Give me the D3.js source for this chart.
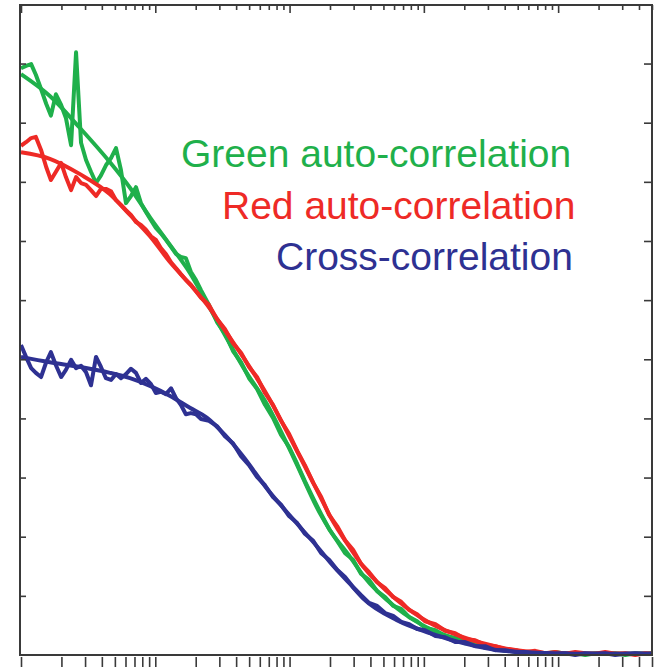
<!DOCTYPE html>
<html>
<head>
<meta charset="utf-8">
<script src="https://cdn.jsdelivr.net/npm/d3@7"></script>
<style>
  html, body { margin: 0; padding: 0; background: #fff; }
  svg { display: block; }
</style>
</head>
<body>
<div class="chart"></div>
<script>
// lag times (ms) of the measured correlation points
var lags = [0.00100, 0.00109, 0.00119, 0.00129, 0.00141, 0.00154, 0.00167, 0.00182, 0.00199, 0.00216,
    0.00236, 0.00257, 0.00280, 0.00305, 0.00332, 0.00362, 0.00394, 0.00429, 0.00468, 0.00510,
    0.00555, 0.00605, 0.00659, 0.00718, 0.00782, 0.00852, 0.00929, 0.0101, 0.0110, 0.0120,
    0.0131, 0.0143, 0.0155, 0.0169, 0.0184, 0.0201, 0.0219,
    0.0251, 0.0288, 0.0330, 0.0379, 0.0435, 0.0499, 0.0572, 0.0656, 0.0753, 0.0864,
    0.0991, 0.114, 0.130, 0.150, 0.172, 0.197, 0.226, 0.259, 0.297, 0.341,
    0.391, 0.449, 0.515, 0.591, 0.678, 0.778, 0.892, 1.02,
    1.22, 1.44, 1.71, 2.03, 2.41, 2.86, 3.40, 4.04, 4.79, 5.69, 6.75,
    8.01, 9.51, 11.3, 13.4, 15.9, 18.9, 22.4, 26.6, 31.6, 37.5, 44.6, 50];

var greenData = [0.992, 0.996, 0.999, 0.981, 0.957, 0.932, 0.912, 0.948, 0.930, 0.908,
    0.862, 1.019, 0.866, 0.837, 0.817, 0.798, 0.811, 0.828, 0.840, 0.857,
    0.820, 0.764, 0.776, 0.791, 0.764, 0.749, 0.735, 0.722, 0.713, 0.702,
    0.690, 0.678, 0.673, 0.671, 0.648, 0.634, 0.617,
    0.592, 0.563, 0.544, 0.514, 0.495, 0.468, 0.450, 0.423, 0.401, 0.372,
    0.352, 0.323, 0.294, 0.265, 0.238, 0.213, 0.193, 0.172, 0.161, 0.137,
    0.127, 0.108, 0.098, 0.083, 0.078, 0.064, 0.057, 0.046,
    0.042, 0.032, 0.029, 0.020, 0.019, 0.012, 0.012, 0.007, 0.008, 0.003, 0.005,
    0.002, 0.005, 0.002, 0.003, 0.000, 0.003, 0.002, 0.003, 0.000, 0.003, 0.002, 0.003];

var redData = [0.861, 0.867, 0.874, 0.876, 0.854, 0.825, 0.803, 0.817, 0.832, 0.808,
    0.786, 0.808, 0.798, 0.795, 0.786, 0.776, 0.788, 0.788, 0.784, 0.769,
    0.761, 0.752, 0.744, 0.732, 0.727, 0.719, 0.708, 0.702, 0.688, 0.678,
    0.664, 0.654, 0.644, 0.634, 0.626, 0.615, 0.604,
    0.592, 0.568, 0.551, 0.527, 0.511, 0.487, 0.470, 0.443, 0.423, 0.396,
    0.374, 0.345, 0.321, 0.291, 0.267, 0.237, 0.218, 0.194, 0.178, 0.154,
    0.140, 0.123, 0.113, 0.098, 0.090, 0.076, 0.069, 0.057,
    0.052, 0.041, 0.037, 0.027, 0.025, 0.017, 0.015, 0.010, 0.008, 0.005, 0.007,
    0.003, 0.005, 0.002, 0.005, 0.003, 0.002, 0.005, 0.002, 0.003, 0.000, 0.003, 0.002];

var crossData = [0.524, 0.504, 0.485, 0.477, 0.470, 0.495, 0.512, 0.490, 0.470, 0.482,
    0.499, 0.485, 0.489, 0.478, 0.456, 0.504, 0.487, 0.468, 0.465, 0.475,
    0.468, 0.475, 0.484, 0.477, 0.460, 0.467, 0.458, 0.443, 0.445, 0.441,
    0.451, 0.434, 0.423, 0.407, 0.409, 0.407, 0.399,
    0.396, 0.387, 0.370, 0.358, 0.336, 0.321, 0.301, 0.287, 0.267, 0.254,
    0.235, 0.223, 0.205, 0.193, 0.172, 0.161, 0.144, 0.132, 0.115, 0.101,
    0.088, 0.083, 0.071, 0.066, 0.056, 0.052, 0.044, 0.042,
    0.032, 0.030, 0.022, 0.022, 0.015, 0.015, 0.008, 0.008, 0.005, 0.005, 0.002,
    0.003, 0.002, 0.003, 0.000, 0.003, 0.002, 0.003, 0.000, 0.002, 0.003, 0.002, 0.002];

// lag times (ms) and values of the fitted curves
var fitLags = [0.00100, 0.00164, 0.00275, 0.00460, 0.00648, 0.00913, 0.0129, 0.0181, 0.0243, 0.0330,
    0.0450, 0.0679, 0.106, 0.168, 0.200, 0.282, 0.352, 0.630, 1.11, 1.96, 3.88, 8.69, 20.5, 50];
var greenFit = [0.982, 0.945, 0.891, 0.833, 0.790, 0.740, 0.693, 0.646, 0.595, 0.541,
    0.487, 0.424, 0.336, 0.240, 0.211, 0.166, 0.135, 0.079, 0.044, 0.024, 0.008, 0.003, 0.002, 0.002];
var redFit = [0.850, 0.839, 0.813, 0.779, 0.744, 0.708, 0.664, 0.627, 0.592, 0.549,
    0.504, 0.440, 0.358, 0.269, 0.235, 0.181, 0.150, 0.093, 0.054, 0.030, 0.012, 0.003, 0.002, 0.002];
var crossFit = [0.504, 0.495, 0.487, 0.477, 0.468, 0.455, 0.438, 0.418, 0.401, 0.372,
    0.336, 0.281, 0.230, 0.178, 0.157, 0.120, 0.096, 0.059, 0.037, 0.020, 0.007, 0.003, 0.002, 0.002];

var yTicks = [0.1, 0.2, 0.3, 0.4, 0.5, 0.6, 0.7, 0.8, 0.9, 1.0];
var labels = ['Green auto-correlation', 'Red auto-correlation', 'Cross-correlation'];
var colors = ['#1fb04b', '#ee2a26', '#2e3192'];

var svgWidth = 658;
var svgHeight = 667;
var plotLeft = 20, plotRight = 652, plotTop = 5, plotBottom = 655;

var svg = d3.select('.chart').append('svg')
    .attr('width', svgWidth)
    .attr('height', svgHeight);

var x = d3.scaleLog().domain([0.001, 50]).range([plotLeft + 1, plotRight]);
var y = d3.scaleLinear().domain([0, 1.1]).range([plotBottom, plotTop - 0.6]);

var line = d3.line()
    .x(function(d) { return x(d[0]); })
    .y(function(d) { return y(d[1]); });
var smooth = d3.line()
    .curve(d3.curveMonotoneX)
    .x(function(d) { return x(d[0]); })
    .y(function(d) { return y(d[1]); });

var series = [
    { data: greenData, fit: greenFit },
    { data: redData, fit: redFit },
    { data: crossData, fit: crossFit }
];

var plot = svg.append('g');
series.forEach(function(s, i) {
    plot.append('path')
        .datum(lags.map(function(t, j) { return [t, s.data[j]]; }))
        .attr('d', line)
        .attr('fill', 'none')
        .attr('stroke', colors[i])
        .attr('stroke-width', 4)
        .attr('stroke-linejoin', 'round');
    plot.append('path')
        .datum(fitLags.map(function(t, j) { return [t, s.fit[j]]; }))
        .attr('d', smooth)
        .attr('fill', 'none')
        .attr('stroke', colors[i])
        .attr('stroke-width', 4);
});

// frame and ticks
var axisColor = '#3a3a3a';
var xTicks = x.ticks();
function isMajor(d) { return Math.abs(Math.log10(d) - Math.round(Math.log10(d))) < 1e-6; }

function styleAxis(g) {
    g.select('.domain').remove();
    g.selectAll('.tick line').attr('stroke', axisColor).attr('stroke-width', 1.6);
}

svg.append('g')
    .attr('transform', 'translate(' + plotLeft + ',0)')
    .call(d3.axisLeft(y).tickValues(yTicks).tickSize(-6).tickFormat(''))
    .call(styleAxis);
svg.append('g')
    .attr('transform', 'translate(' + plotRight + ',0)')
    .call(d3.axisRight(y).tickValues(yTicks).tickSize(-8).tickFormat(''))
    .call(styleAxis);
svg.append('g')
    .attr('transform', 'translate(0,' + plotTop + ')')
    .call(d3.axisTop(x).tickValues(xTicks).tickSize(-5).tickFormat(''))
    .call(styleAxis)
    .selectAll('.tick line')
    .attr('y2', function(d) { return isMajor(d) ? 8 : 5; });
svg.append('g')
    .attr('transform', 'translate(0,' + (plotBottom + 2) + ')')
    .call(d3.axisBottom(x).tickValues(xTicks).tickSize(12).tickFormat(''))
    .call(styleAxis);

svg.append('rect')
    .attr('x', plotLeft)
    .attr('y', plotTop)
    .attr('width', plotRight - plotLeft)
    .attr('height', plotBottom - plotTop)
    .attr('fill', 'none')
    .attr('stroke', axisColor)
    .attr('stroke-width', 2);

// legend text
var labelX = [181, 222, 276];
var labelY = [167, 219, 270];
svg.selectAll('text.label')
    .data(labels)
    .enter()
    .append('text')
    .attr('class', 'label')
    .text(function(d) { return d; })
    .attr('x', function(d, i) { return labelX[i]; })
    .attr('y', function(d, i) { return labelY[i]; })
    .attr('font-family', 'Liberation Sans, Arial, Helvetica, sans-serif')
    .attr('font-size', '39px')
    .attr('fill', function(d, i) { return colors[i]; });
</script>
</body>
</html>
